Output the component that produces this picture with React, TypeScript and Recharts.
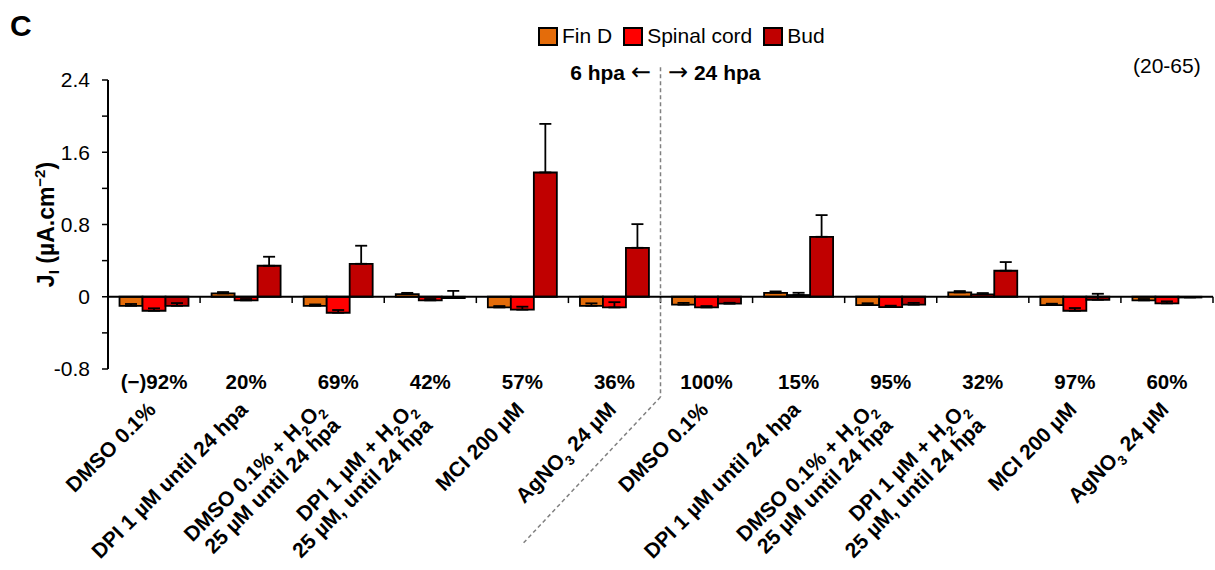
import React from "react";
import {
  BarChart,
  Bar,
  XAxis,
  YAxis,
  ErrorBar,
  ReferenceLine,
  Legend,
} from "recharts";

const FONT = "'Liberation Sans', Arial, Helvetica, 'DejaVu Sans', sans-serif";
const ARROW_FONT = "'DejaVu Sans', sans-serif";

// category labels: "_2" marks a subscript digit
const categoryLabels: string[][] = [
  ["DMSO 0.1%"],
  ["DPI 1 µM until 24 hpa"],
  ["DMSO 0.1% + H_2O_2", "25 µM until 24 hpa"],
  ["DPI 1 µM + H_2O_2", "25 µM, until 24 hpa"],
  ["MCI 200 µM"],
  ["AgNO_3 24 µM"],
  ["DMSO 0.1%"],
  ["DPI 1 µM until 24 hpa"],
  ["DMSO 0.1% + H_2O_2", "25 µM until 24 hpa"],
  ["DPI 1 µM + H_2O_2", "25 µM, until 24 hpa"],
  ["MCI 200 µM"],
  ["AgNO_3 24 µM"],
];

const percentLabels = ["(−)92%", "20%", "69%", "42%", "57%", "36%", "100%", "15%", "95%", "32%", "97%", "60%"];

const seriesNames = ["Fin D", "Spinal cord", "Bud"];

const finD = [-0.1, 0.037, -0.1, 0.03, -0.118, -0.1, -0.088, 0.044, -0.092, 0.048, -0.092, -0.04];
const finDErr = [0.02, 0.015, 0.015, 0.013, 0.015, 0.027, 0.02, 0.015, 0.02, 0.015, 0.015, 0.015];
const spinal = [-0.155, -0.04, -0.177, -0.04, -0.143, -0.118, -0.118, 0.019, -0.114, 0.026, -0.155, -0.073];
const spinalErr = [0.027, 0.015, 0.03, 0.015, 0.033, 0.058, 0.015, 0.025, 0.015, 0.015, 0.03, 0.022];
const bud = [-0.1, 0.343, 0.365, -0.015, 1.376, 0.542, -0.077, 0.664, -0.088, 0.288, -0.033, -0.008];
const budErr = [0.03, 0.1, 0.2, 0.08, 0.538, 0.262, 0.01, 0.24, 0.02, 0.096, 0.066, 0.005];

const yTicks = [-0.8, -0.4, 0, 0.4, 0.8, 1.2, 1.6, 2.0, 2.4];
const yLabelled = [-0.8, 0, 0.8, 1.6, 2.4];

// only the "plus" error is drawn, as in the original figure
const tableData = categoryLabels.map((lines, i) => ({
  key: `c${i}`,
  idx: i,
  finD: finD[i],
  finDErr: [0, finDErr[i]],
  spinal: spinal[i],
  spinalErr: [0, spinalErr[i]],
  bud: bud[i],
  budErr: [0, budErr[i]],
}));

function rich(text: string, size: number) {
  const parts = text.split(/_(\d)/);
  const shift = size * 0.28;
  const out: React.ReactNode[] = [];
  let lowered = false;
  parts.forEach((p, k) => {
    if (k % 2 === 1) {
      out.push(
        <tspan key={k} fontSize={size * 0.65} dy={shift}>
          {p}
        </tspan>
      );
      lowered = true;
    } else if (p) {
      out.push(
        <tspan key={k} dy={lowered ? -shift : 0}>
          {p}
        </tspan>
      );
      lowered = false;
    }
  });
  return out;
}

const LABEL_SIZE = 21;
const LINE_H = 23;

function CategoryTick(props: any) {
  const { x, y, index } = props;
  const lines = categoryLabels[index] ?? [];
  const n = lines.length;
  const step = LINE_H * Math.SQRT1_2;
  const bx = n > 1 ? x - 5 : x + 3;
  const by = n > 1 ? y + 49.5 : y + 42;
  return (
    <g fontFamily={FONT} fill="#000">
      <text x={x} y={y + 19.5} textAnchor="middle" fontSize={20.5} fontWeight="bold">
        {percentLabels[index]}
      </text>
      {lines.map((line, k) => {
        const d = (k - (n - 1) / 2) * step;
        return (
          <text
            key={k}
            transform={`translate(${bx + d} ${by + d}) rotate(-45)`}
            textAnchor="end"
            fontSize={LABEL_SIZE}
            fontWeight="bold"
          >
            {rich(line, LABEL_SIZE)}
          </text>
        );
      })}
    </g>
  );
}

function AxisTitle(props: any) {
  const vb = props.viewBox ?? { x: 0, y: 80, width: 108, height: 289 };
  const cx = vb.x + 53.5;
  const cy = vb.y + vb.height / 2;
  return (
    <text
      transform={`translate(${cx} ${cy}) rotate(-90)`}
      textAnchor="middle"
      fontFamily={FONT}
      fontSize={23}
      fontWeight="bold"
      fill="#000"
    >
      J
      <tspan fontSize={15} dy={5}>
        I
      </tspan>
      <tspan dy={-5}> (µA.cm</tspan>
      <tspan fontSize={15} dy={-9}>
        −2
      </tspan>
      <tspan dy={9}>)</tspan>
    </text>
  );
}

function LegendContent({ payload }: any) {
  const items = [...(payload ?? [])].sort(
    (a: any, b: any) => seriesNames.indexOf(a.value) - seriesNames.indexOf(b.value)
  );
  return (
    <div
      style={{
        display: "flex",
        alignItems: "center",
        fontFamily: FONT,
        fontSize: 21,
        color: "#000",
        whiteSpace: "nowrap",
      }}
    >
      {items.map((item: any) => (
        <span key={item.value} style={{ display: "flex", alignItems: "center", marginRight: 11 }}>
          <span
            style={{
              display: "inline-block",
              width: 20,
              height: 19,
              boxSizing: "border-box",
              border: "2px solid #000",
              background: item.color,
              marginRight: 4,
            }}
          />
          {item.value}
        </span>
      ))}
    </div>
  );
}

const boundaries = Array.from({ length: 12 }, (_, i) => i + 1);

export default function App() {
  return (
    <div style={{ position: "absolute", left: 0, top: 0, width: 1215, height: 570, background: "#fff" }}>
      <BarChart
        width={1215}
        height={570}
        data={tableData}
        margin={{ top: 80, right: 2, bottom: 0, left: 0 }}
        barCategoryGap="12.5%"
        barGap={0}
      >
        <XAxis
          dataKey="key"
          interval={0}
          tickLine={false}
          axisLine={false}
          tickSize={0}
          tickMargin={0}
          height={201}
          tick={<CategoryTick />}
        />
        {/* hidden linear axis over the category slots, for boundary ticks and the divider */}
        <XAxis
          xAxisId="num"
          dataKey="idx"
          type="number"
          scale="linear"
          domain={[0, 12]}
          allowDataOverflow
          hide
        />
        <YAxis
          domain={[-0.8, 2.4]}
          ticks={yTicks}
          interval={0}
          width={108}
          tickFormatter={(v: number) => (yLabelled.includes(v) ? String(v) : "")}
          tick={{ fontSize: 21, fill: "#000", fontFamily: FONT }}
          tickSize={6}
          tickMargin={12}
          axisLine={{ stroke: "#000", strokeWidth: 2 }}
          tickLine={{ stroke: "#000", strokeWidth: 1.5 }}
          label={<AxisTitle />}
        />
        <Legend
          verticalAlign="middle"
          align="center"
          content={<LegendContent />}
          wrapperStyle={{ left: 538, top: 24, width: "auto", height: "auto" }}
        />
        <Bar dataKey="finD" name="Fin D" fill="#E46C0A" stroke="#000" strokeWidth={1.8} isAnimationActive={false}>
          <ErrorBar dataKey="finDErr" direction="y" width={6} stroke="#000" strokeWidth={1.8} />
        </Bar>
        <Bar dataKey="spinal" name="Spinal cord" fill="#FF0000" stroke="#000" strokeWidth={1.8} isAnimationActive={false}>
          <ErrorBar dataKey="spinalErr" direction="y" width={6} stroke="#000" strokeWidth={1.8} />
        </Bar>
        <Bar dataKey="bud" name="Bud" fill="#C00000" stroke="#000" strokeWidth={1.8} isAnimationActive={false}>
          <ErrorBar dataKey="budErr" direction="y" width={6} stroke="#000" strokeWidth={1.8} />
        </Bar>
        <ReferenceLine y={0} stroke="#000" strokeWidth={2} />
        {boundaries.map((b) => (
          <ReferenceLine
            key={b}
            xAxisId="num"
            segment={[
              { x: b, y: 0 },
              { x: b, y: -0.07 },
            ]}
            stroke="#000"
            strokeWidth={1.5}
            ifOverflow="visible"
          />
        ))}
        <ReferenceLine
          xAxisId="num"
          segment={[
            { x: 6, y: 2.54 },
            { x: 6, y: -1.11 },
          ]}
          stroke="#808080"
          strokeWidth={1.5}
          strokeDasharray="4 3"
          ifOverflow="visible"
        />
        <ReferenceLine
          xAxisId="num"
          segment={[
            { x: 6, y: -1.11 },
            { x: 4.49, y: -2.75 },
          ]}
          stroke="#808080"
          strokeWidth={1.5}
          strokeDasharray="4 3"
          ifOverflow="visible"
        />
      </BarChart>
      <svg
        width={1215}
        height={570}
        style={{ position: "absolute", left: 0, top: 0, pointerEvents: "none" }}
        fontFamily={FONT}
        fill="#000"
      >
        <text x={10} y={36} fontSize={30} fontWeight="bold">
          C
        </text>
        <text x={651} y={80} textAnchor="end" fontSize={21}>
          <tspan fontWeight="bold">6 hpa </tspan>
          <tspan fontFamily={ARROW_FONT} fontSize={24}>←</tspan>
        </text>
        <text x={668} y={80} fontSize={21}>
          <tspan fontFamily={ARROW_FONT} fontSize={24}>→</tspan>
          <tspan fontWeight="bold"> 24 hpa</tspan>
        </text>
        <text x={1133} y={73} fontSize={21}>
          (20-65)
        </text>
      </svg>
    </div>
  );
}
